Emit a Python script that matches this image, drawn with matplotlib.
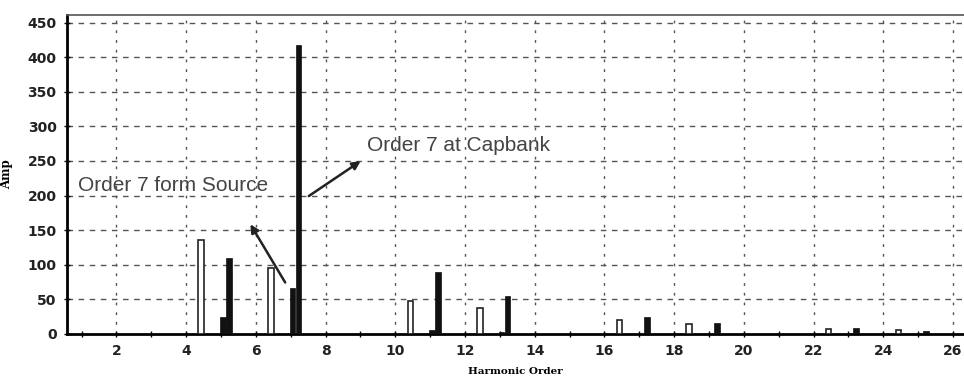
import matplotlib
matplotlib.use("Agg")
import matplotlib.pyplot as plt
import numpy as np

# Data
harmonics = [5, 7, 11, 13, 17, 19, 23, 25]
source_amp = [136, 95, 48, 37, 20, 14, 7, 6]        # hollow bars
cap_small_amp = [25, 67, 6, 3, 0, 0, 0, 0]          # small filled bars
cap_amp = [110, 417, 90, 55, 24, 16, 9, 5]          # tall filled bars
x_ticks = [2, 4, 6, 8, 10, 12, 14, 16, 18, 20, 22, 24, 26]
y_ticks = [0, 50, 100, 150, 200, 250, 300, 350, 400, 450]

fig = plt.figure(figsize=(9.64, 3.92), dpi=100)
ax = fig.add_axes([0.0695, 0.148, 0.93, 0.814])

h = np.array(harmonics, dtype=float)
w = 0.16
ax.bar(h - 0.57, source_amp, width=w, facecolor="white", edgecolor="#222222", linewidth=1.2, zorder=3)
ax.bar(h + 0.05, cap_small_amp, width=w, color="#111111", edgecolor="#111111", linewidth=0.5, zorder=3)
ax.bar(h + 0.22, cap_amp, width=w, color="#111111", edgecolor="#111111", linewidth=0.5, zorder=3)

ax.set_xlim(0.58, 26.3)
ax.set_ylim(0, 461)
ax.set_xticks(x_ticks)
ax.set_xticks(range(1, 27, 2), minor=True)
ax.set_yticks(y_ticks)

for y in y_ticks[1:]:
    ax.axhline(y, color="#555555", linewidth=1.0, linestyle=(0, (4, 4)), zorder=1)
for x in x_ticks:
    ax.axvline(x, color="#555555", linewidth=1.0, linestyle=(0, (2, 5)), zorder=1)

for s in ["left", "bottom"]:
    ax.spines[s].set_linewidth(2.0)
    ax.spines[s].set_color("black")
ax.spines["top"].set_color("#555555")
ax.spines["top"].set_linewidth(1.2)
ax.spines["right"].set_visible(False)

ax.tick_params(axis="both", which="major", direction="inout", length=5, width=1,
               labelsize=10, pad=5)
ax.tick_params(axis="x", which="minor", direction="inout", length=4, width=1)
for lab in ax.get_xticklabels() + ax.get_yticklabels():
    lab.set_fontweight("bold")
    lab.set_family("DejaVu Sans")
    lab.set_color("#222222")

ax.set_ylabel("Amp", family="DejaVu Serif", fontweight="bold", fontsize=8.5, labelpad=10)
ax.set_xlabel("Harmonic Order", family="DejaVu Serif", fontweight="bold", fontsize=7.5, labelpad=6)

ax.text(0.9, 215, "Order 7 form Source", family="Liberation Sans", fontsize=15,
        color="#444444", va="center", ha="left", zorder=5)
ax.text(9.18, 273, "Order 7 at Capbank", family="Liberation Sans", fontsize=15,
        color="#444444", va="center", ha="left", zorder=5)

ax.annotate("", xy=(5.8, 162), xytext=(6.88, 71),
            arrowprops=dict(arrowstyle="-|>", color="#222222", lw=1.8, mutation_scale=12), zorder=6)
ax.annotate("", xy=(9.07, 252), xytext=(7.45, 197),
            arrowprops=dict(arrowstyle="-|>", color="#222222", lw=1.8, mutation_scale=12), zorder=6)

fig.savefig("out.png", dpi=100)
